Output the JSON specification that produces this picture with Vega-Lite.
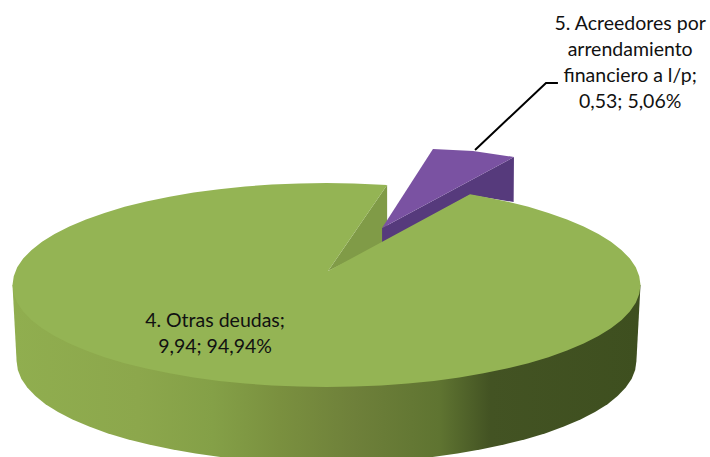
{"$schema":"https://vega.github.io/schema/vega-lite/v6.json","width":710,"height":457,"autosize":{"type":"fit","contains":"padding"},"padding":0,"background":"white","view":{"stroke":null},
"datasets":{"outline":[
{"part":"side","i":0,"u":-1,"v":0},{"part":"side","i":1,"u":-0.987,"v":-0.745},{"part":"side","i":2,"u":-0.983,"v":-0.832},{"part":"side","i":3,"u":-0.972,"v":-0.919},{"part":"side","i":4,"u":-0.953,"v":-1.004},{"part":"side","i":5,"u":-0.927,"v":-1.087},{"part":"side","i":6,"u":-0.895,"v":-1.168},{"part":"side","i":7,"u":-0.855,"v":-1.245},{"part":"side","i":8,"u":-0.809,"v":-1.319},{"part":"side","i":9,"u":-0.756,"v":-1.388},{"part":"side","i":10,"u":-0.698,"v":-1.452},{"part":"side","i":11,"u":-0.634,"v":-1.511},{"part":"side","i":12,"u":-0.566,"v":-1.564},{"part":"side","i":13,"u":-0.494,"v":-1.611},{"part":"side","i":14,"u":-0.417,"v":-1.651},{"part":"side","i":15,"u":-0.338,"v":-1.685},{"part":"side","i":16,"u":-0.255,"v":-1.711},{"part":"side","i":17,"u":-0.171,"v":-1.73},{"part":"side","i":18,"u":-0.086,"v":-1.741},{"part":"side","i":19,"u":0,"v":-1.745},{"part":"side","i":20,"u":0.086,"v":-1.741},{"part":"side","i":21,"u":0.171,"v":-1.73},{"part":"side","i":22,"u":0.255,"v":-1.711},{"part":"side","i":23,"u":0.338,"v":-1.685},{"part":"side","i":24,"u":0.417,"v":-1.651},{"part":"side","i":25,"u":0.494,"v":-1.611},{"part":"side","i":26,"u":0.566,"v":-1.564},{"part":"side","i":27,"u":0.634,"v":-1.511},{"part":"side","i":28,"u":0.698,"v":-1.452},{"part":"side","i":29,"u":0.756,"v":-1.388},{"part":"side","i":30,"u":0.809,"v":-1.319},{"part":"side","i":31,"u":0.855,"v":-1.245},{"part":"side","i":32,"u":0.895,"v":-1.168},{"part":"side","i":33,"u":0.927,"v":-1.087},{"part":"side","i":34,"u":0.953,"v":-1.004},{"part":"side","i":35,"u":0.972,"v":-0.919},{"part":"side","i":36,"u":0.983,"v":-0.832},{"part":"side","i":37,"u":0.987,"v":-0.745},{"part":"side","i":38,"u":1,"v":0},
{"part":"purpleWall","i":0,"u":0.597,"v":1.255},{"part":"purpleWall","i":1,"u":0.596,"v":0.814},{"part":"purpleWall","i":2,"u":0.457,"v":0.882},{"part":"purpleWall","i":3,"u":0.177,"v":0.412},{"part":"purpleWall","i":4,"u":0.177,"v":0.559},
{"part":"purpleTop","i":0,"u":0.339,"v":1.333},{"part":"purpleTop","i":1,"u":0.467,"v":1.314},{"part":"purpleTop","i":2,"u":0.597,"v":1.255},{"part":"purpleTop","i":3,"u":0.177,"v":0.559},
{"part":"greenWall","i":0,"u":0.005,"v":0.137},{"part":"greenWall","i":1,"u":0.193,"v":0.981},{"part":"greenWall","i":2,"u":0.193,"v":0.42},
{"part":"top","i":0,"u":0.005,"v":0.137},{"part":"top","i":1,"u":0.193,"v":0.981},{"part":"top","i":2,"u":0.087,"v":0.996},{"part":"top","i":3,"u":0,"v":1},{"part":"top","i":4,"u":-0.087,"v":0.996},{"part":"top","i":5,"u":-0.174,"v":0.985},{"part":"top","i":6,"u":-0.259,"v":0.966},{"part":"top","i":7,"u":-0.342,"v":0.94},{"part":"top","i":8,"u":-0.423,"v":0.906},{"part":"top","i":9,"u":-0.5,"v":0.866},{"part":"top","i":10,"u":-0.574,"v":0.819},{"part":"top","i":11,"u":-0.643,"v":0.766},{"part":"top","i":12,"u":-0.707,"v":0.707},{"part":"top","i":13,"u":-0.766,"v":0.643},{"part":"top","i":14,"u":-0.819,"v":0.574},{"part":"top","i":15,"u":-0.866,"v":0.5},{"part":"top","i":16,"u":-0.906,"v":0.423},{"part":"top","i":17,"u":-0.94,"v":0.342},{"part":"top","i":18,"u":-0.966,"v":0.259},{"part":"top","i":19,"u":-0.985,"v":0.174},{"part":"top","i":20,"u":-0.996,"v":0.087},{"part":"top","i":21,"u":-1,"v":0},{"part":"top","i":22,"u":-0.996,"v":-0.087},{"part":"top","i":23,"u":-0.985,"v":-0.174},{"part":"top","i":24,"u":-0.966,"v":-0.259},{"part":"top","i":25,"u":-0.94,"v":-0.342},{"part":"top","i":26,"u":-0.906,"v":-0.423},{"part":"top","i":27,"u":-0.866,"v":-0.5},{"part":"top","i":28,"u":-0.819,"v":-0.574},{"part":"top","i":29,"u":-0.766,"v":-0.643},{"part":"top","i":30,"u":-0.707,"v":-0.707},{"part":"top","i":31,"u":-0.643,"v":-0.766},{"part":"top","i":32,"u":-0.574,"v":-0.819},{"part":"top","i":33,"u":-0.5,"v":-0.866},{"part":"top","i":34,"u":-0.423,"v":-0.906},{"part":"top","i":35,"u":-0.342,"v":-0.94},{"part":"top","i":36,"u":-0.259,"v":-0.966},{"part":"top","i":37,"u":-0.174,"v":-0.985},{"part":"top","i":38,"u":-0.087,"v":-0.996},{"part":"top","i":39,"u":0,"v":-1},{"part":"top","i":40,"u":0.087,"v":-0.996},{"part":"top","i":41,"u":0.174,"v":-0.985},{"part":"top","i":42,"u":0.259,"v":-0.966},{"part":"top","i":43,"u":0.342,"v":-0.94},{"part":"top","i":44,"u":0.423,"v":-0.906},{"part":"top","i":45,"u":0.5,"v":-0.866},{"part":"top","i":46,"u":0.574,"v":-0.819},{"part":"top","i":47,"u":0.643,"v":-0.766},{"part":"top","i":48,"u":0.707,"v":-0.707},{"part":"top","i":49,"u":0.766,"v":-0.643},{"part":"top","i":50,"u":0.819,"v":-0.574},{"part":"top","i":51,"u":0.866,"v":-0.5},{"part":"top","i":52,"u":0.906,"v":-0.423},{"part":"top","i":53,"u":0.94,"v":-0.342},{"part":"top","i":54,"u":0.966,"v":-0.259},{"part":"top","i":55,"u":0.985,"v":-0.174},{"part":"top","i":56,"u":0.996,"v":-0.087},{"part":"top","i":57,"u":1,"v":0},{"part":"top","i":58,"u":0.996,"v":0.087},{"part":"top","i":59,"u":0.985,"v":0.174},{"part":"top","i":60,"u":0.966,"v":0.259},{"part":"top","i":61,"u":0.94,"v":0.342},{"part":"top","i":62,"u":0.906,"v":0.423},{"part":"top","i":63,"u":0.866,"v":0.5},{"part":"top","i":64,"u":0.819,"v":0.574},{"part":"top","i":65,"u":0.766,"v":0.643},{"part":"top","i":66,"u":0.707,"v":0.707},{"part":"top","i":67,"u":0.643,"v":0.766},{"part":"top","i":68,"u":0.574,"v":0.819},{"part":"top","i":69,"u":0.5,"v":0.866},{"part":"top","i":70,"u":0.457,"v":0.889},
{"part":"leader","i":0,"u":0.473,"v":1.324},{"part":"leader","i":1,"u":0.699,"v":1.98},{"part":"leader","i":2,"u":0.737,"v":1.98}
],
"labels":[
{"slice":"4. Otras deudas","value":9.94,"share":94.94,"label":"4. Otras deudas;\n9,94; 94,94%","u":-0.355,"v":-0.353},
{"slice":"5. Acreedores por arrendamiento financiero a l/p","value":0.53,"share":5.06,"label":"5. Acreedores por\narrendamiento\nfinanciero a l/p;\n0,53; 5,06%","u":0.967,"v":2.559}
]},
"encoding":{
"x":{"field":"u","type":"quantitative","axis":null,"scale":{"domain":[-1.0398,1.2213],"nice":false,"zero":false}},
"y":{"field":"v","type":"quantitative","axis":null,"scale":{"domain":[-1.686,2.794],"nice":false,"zero":false}},
"order":{"field":"i","type":"quantitative"}
},
"layer":[
{"data":{"name":"outline"},"transform":[{"filter":"datum.part==='side'"}],"mark":{"type":"line","clip":true,"filled":true,"strokeWidth":0,"fill":{"gradient":"linear","x1":0,"y1":0,"x2":1,"y2":0,"stops":[{"offset":0,"color":"#90ae4f"},{"offset":0.2,"color":"#8ca74c"},{"offset":0.32,"color":"#84a047"},{"offset":0.425,"color":"#7a903f"},{"offset":0.545,"color":"#6e803a"},{"offset":0.68,"color":"#5f7431"},{"offset":0.76,"color":"#435323"},{"offset":1,"color":"#3e4f1f"}]}}},
{"data":{"name":"outline"},"transform":[{"filter":"datum.part==='greenWall'"}],"mark":{"type":"line","filled":true,"strokeWidth":0,"fill":"#809b47"}},
{"data":{"name":"outline"},"transform":[{"filter":"datum.part==='purpleWall'"}],"mark":{"type":"line","filled":true,"strokeWidth":0,"fill":"#563a7c"}},
{"data":{"name":"outline"},"transform":[{"filter":"datum.part==='purpleTop'"}],"mark":{"type":"line","filled":true,"strokeWidth":0,"fill":"#7a52a2"}},
{"data":{"name":"outline"},"transform":[{"filter":"datum.part==='top'"}],"mark":{"type":"line","filled":true,"strokeWidth":0,"fill":"#94b454"}},
{"data":{"name":"outline"},"transform":[{"filter":"datum.part==='leader'"}],"mark":{"type":"line","stroke":"#000000","strokeWidth":2}},
{"data":{"name":"labels"},"encoding":{"text":{"field":"label"},"order":{"value":null}},"mark":{"type":"text","font":"Lato","fontSize":19.5,"lineHeight":26,"lineBreak":"\n","align":"center","baseline":"middle","color":"#111111"}}
]}
